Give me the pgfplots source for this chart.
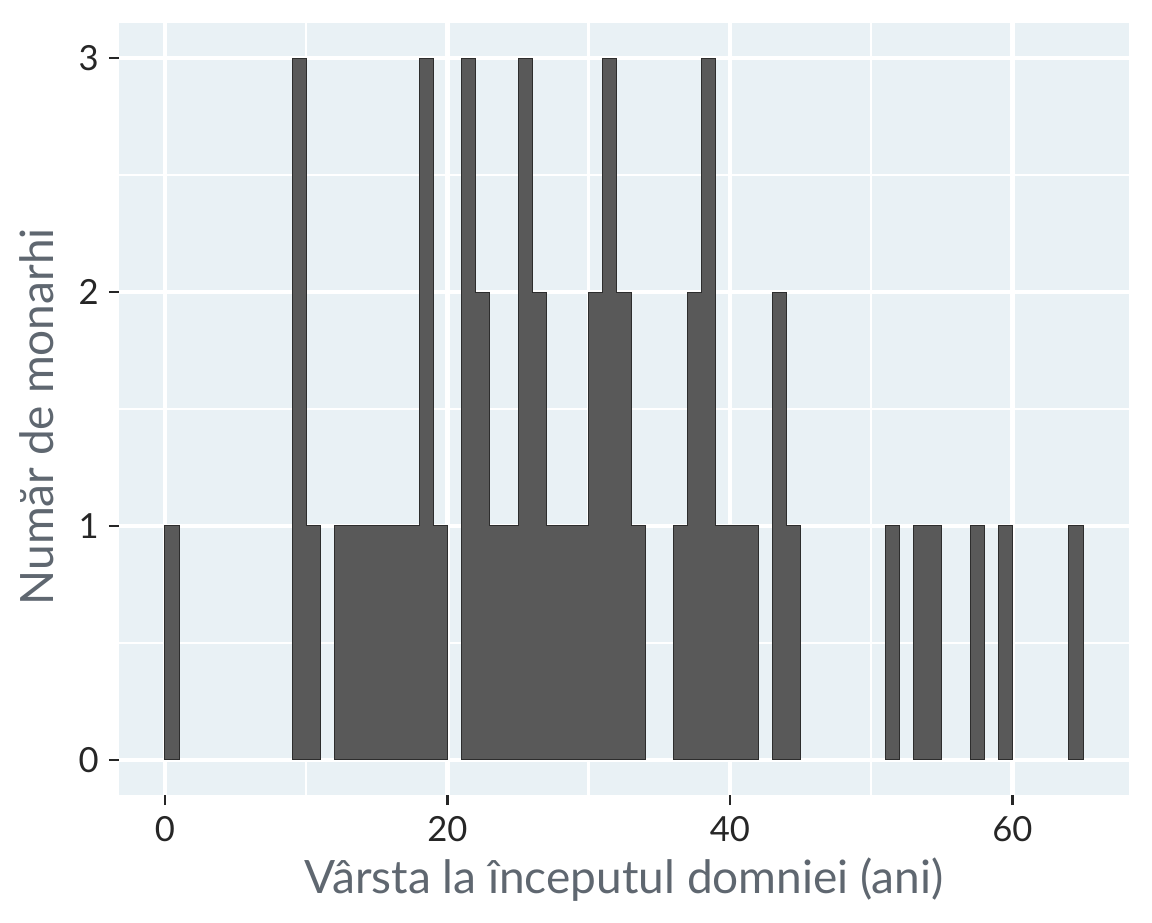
\documentclass[border=0pt]{standalone}
\usepackage{pgfplots}
\pgfplotsset{compat=1.18}
\usepackage{fontspec}
\setmainfont{Lato}
\definecolor{panelbg}{RGB}{233,241,245}
\definecolor{barfill}{RGB}{89,89,89}
\definecolor{barline}{RGB}{45,45,45}
\definecolor{titlegray}{RGB}{95,103,112}
\definecolor{tickgray}{RGB}{38,38,38}
\pgfplotsset{histbar/.style={const plot mark left, no marks, fill=barfill, draw=barline, line width=0.5pt}}
\begin{document}
\begin{tikzpicture}
\path[use as bounding box] (0,0) rectangle (576pt,461pt);
\begin{axis}[
  at={(59.5pt,63.5pt)}, anchor=south west,
  scale only axis, width=505pt, height=386pt,
  xmin=-3.25, xmax=68.25, ymin=-0.15, ymax=3.15,
  xtick={0,20,40,60}, ytick={0,1,2,3},
  minor xtick={10,30,50}, minor ytick={0.5,1.5,2.5},
  grid=both,
  major grid style={white, line width=2.2pt},
  minor grid style={white, line width=1.2pt},
  axis background/.style={fill=panelbg},
  axis line style={draw=none},
  tick align=outside, xtick pos=bottom, ytick pos=left,
  major tick length=5pt, minor tick length=0pt,
  tick style={tickgray, line width=1.3pt},
  /pgf/number format/assume math mode=true,
  ticklabel style={font=\fontsize{17.3}{20}\selectfont, text=tickgray},
  xticklabel style={anchor=base, inner sep=0pt, yshift=-18pt},
  yticklabel style={anchor=east, inner sep=0pt, xshift=-5pt},
  xlabel={Vârsta la începutul domniei (ani)},
  ylabel={Număr de monarhi},
  label style={font=\fontsize{23}{27}\selectfont, text=titlegray},
  xlabel style={at={(axis description cs:0.5,-0.127)}, anchor=base, inner sep=0pt},
  ylabel style={at={(axis description cs:-0.0653,0.49)}, anchor=base, inner sep=0pt},
]
% histogram, binwidth 1: (left edge, count); last point closes the group
\addplot[histbar] coordinates {(0,1) (1,1)} \closedcycle;
\addplot[histbar] coordinates {(9,3) (10,1) (11,1)} \closedcycle;
\addplot[histbar] coordinates {(12,1) (13,1) (14,1) (15,1) (16,1) (17,1) (18,3) (19,1) (20,1)} \closedcycle;
\addplot[histbar] coordinates {(21,3) (22,2) (23,1) (24,1) (25,3) (26,2) (27,1) (28,1) (29,1) (30,2) (31,3) (32,2) (33,1) (34,1)} \closedcycle;
\addplot[histbar] coordinates {(36,1) (37,2) (38,3) (39,1) (40,1) (41,1) (42,1)} \closedcycle;
\addplot[histbar] coordinates {(43,2) (44,1) (45,1)} \closedcycle;
\addplot[histbar] coordinates {(51,1) (52,1)} \closedcycle;
\addplot[histbar] coordinates {(53,1) (54,1) (55,1)} \closedcycle;
\addplot[histbar] coordinates {(57,1) (58,1)} \closedcycle;
\addplot[histbar] coordinates {(59,1) (60,1)} \closedcycle;
\addplot[histbar] coordinates {(64,1) (65,1)} \closedcycle;
\end{axis}
\end{tikzpicture}
\end{document}
